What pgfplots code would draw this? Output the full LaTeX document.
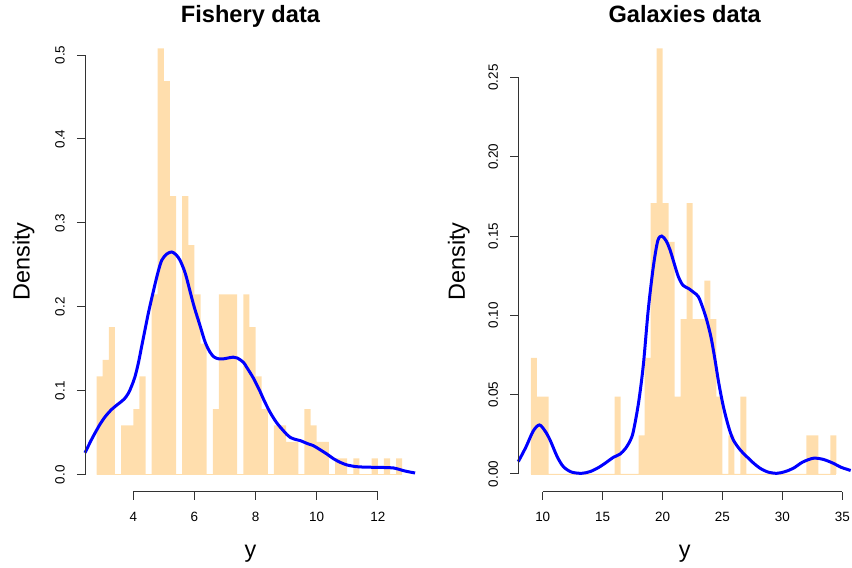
\documentclass[border=0pt]{standalone}
\usepackage{fontspec}
\setmainfont{Liberation Sans}
\usepackage{pgfplots}
\pgfplotsset{compat=1.18}
\definecolor{barc}{HTML}{FFDEAD}
\definecolor{axc}{HTML}{333333}
\pgfplotsset{
  rstyle/.style={
    scale only axis, clip=false,
    axis x line*=bottom, axis y line*=left,
    axis line style={draw=none},
    tick align=outside, major tick length=8bp,
    tick style={axc, line width=0.9bp},
    scaled ticks=false,
    /pgf/number format/assume math mode=true,
    tick label style={font=\fontsize{13.5}{15}\selectfont, text=black},
    yticklabel style={rotate=90, anchor=south, inner ysep=12bp},
    xticklabel style={yshift=-8.6bp},
    xlabel style={font=\fontsize{23.5}{26}\selectfont, at={(axis description cs:0.5,-0.142)}, anchor=base},
    title style={font=\fontsize{23.7}{26}\selectfont\bfseries, at={(axis description cs:0.5,1)}, anchor=base, yshift=2.6bp},
  }
}
\begin{document}
\begin{tikzpicture}
\path[use as bounding box] (0bp,0bp) rectangle (852bp,-568bp);
\begin{axis}[rstyle,
  at={(85bp,-491.7bp)}, anchor=south west,
  width=331bp, height=460.2bp,
  xmin=2.42, xmax=13.25, ymin=-0.0203, ymax=0.528,
  xtick={4,6,8,10,12},
  ytick={0,0.1,0.2,0.3,0.4,0.5},
  yticklabels={0.0,0.1,0.2,0.3,0.4,0.5},
  title={Fishery data}, xlabel={y}, ylabel={Density},
  ylabel style={font=\fontsize{23.5}{26}\selectfont, at={(axis description cs:-0.1675,0.5)}, rotate=0, anchor=base},
]
\addplot[ybar interval, fill=barc, draw=none] coordinates {
(2.8,0.1172) (3.0,0.1367) (3.2,0.1758) (3.4,0) (3.6,0.0586) (3.8,0.0586)
(4.0,0.0781) (4.2,0.1172) (4.4,0) (4.6,0.2148) (4.8,0.5078) (5.0,0.4688)
(5.2,0.3320) (5.4,0) (5.6,0.3320) (5.8,0.2734) (6.0,0.2148) (6.2,0.15625)
(6.4,0) (6.6,0.0781) (6.8,0.2148) (7.0,0.2148) (7.2,0.2148) (7.4,0)
(7.6,0.2148) (7.8,0.1758) (8.0,0.1172) (8.2,0.0781) (8.4,0) (8.6,0.0586)
(8.8,0.0586) (9.0,0.0391) (9.2,0.0391) (9.4,0) (9.6,0.0781) (9.8,0.0586)
(10.0,0.0391) (10.2,0.0391) (10.4,0) (10.6,0.0195) (10.8,0.0195) (11.0,0)
(11.2,0.0195) (11.4,0) (11.6,0) (11.8,0.0195) (12.0,0) (12.2,0.0195)
(12.4,0) (12.6,0.0195) (12.8,0)
};
\addplot[barc, line width=0.8bp] coordinates {(2.8,0) (12.8,0)};
\addplot[blue, line width=3bp, smooth] coordinates {
(2.42,0.026) (2.65,0.043) (2.91,0.060) (3.1,0.070) (3.3,0.078) (3.5,0.084)
(3.7,0.090) (3.84,0.097) (3.95,0.106) (4.05,0.116) (4.16,0.132)
(4.27,0.152) (4.38,0.172) (4.49,0.192) (4.65,0.2175) (4.80,0.240) (4.93,0.2554)
(5.1,0.263) (5.26,0.2653) (5.4,0.262) (5.53,0.2554) (5.7,0.240) (5.86,0.218)
(6.0,0.199) (6.18,0.178) (6.35,0.158) (6.51,0.146) (6.65,0.140) (6.8,0.138)
(6.95,0.138) (7.1,0.139) (7.27,0.140) (7.4,0.139) (7.6,0.134) (7.71,0.128)
(7.93,0.115) (8.15,0.099) (8.26,0.090) (8.45,0.076) (8.65,0.064) (8.8,0.057)
(9.02,0.048) (9.13,0.0445) (9.3,0.042) (9.46,0.0406) (9.7,0.037) (9.89,0.0346)
(10.1,0.030) (10.33,0.0247) (10.55,0.019) (10.77,0.0147) (11.0,0.0115) (11.31,0.0095)
(11.6,0.009) (11.97,0.0087) (12.25,0.0085) (12.51,0.008) (12.7,0.0063) (12.84,0.0048)
(13.0,0.0035) (13.22,0.002)
};
\draw[axc, line width=0.9bp] (axis cs:4,-0.0203) -- (axis cs:12,-0.0203);
\draw[axc, line width=0.9bp] (axis cs:2.42,0) -- (axis cs:2.42,0.5);
\end{axis}
\begin{axis}[rstyle,
  at={(518.3bp,-491.7bp)}, anchor=south west,
  width=332.7bp, height=460.2bp,
  xmin=7.96, xmax=35.73, ymin=-0.0112, ymax=0.279,
  xtick={10,15,20,25,30,35},
  ytick={0,0.05,0.10,0.15,0.20,0.25},
  yticklabels={0.00,0.05,0.10,0.15,0.20,0.25},
  title={Galaxies data}, xlabel={y}, ylabel={Density},
  ylabel style={font=\fontsize{23.5}{26}\selectfont, at={(axis description cs:-0.1608,0.5)}, rotate=0, anchor=base},
]
\addplot[ybar interval, fill=barc, draw=none] coordinates {
(9.0,0.07317) (9.5,0.04878) (10.0,0.04878) (10.5,0) (11.0,0) (11.5,0) (12.0,0)
(12.5,0) (13.0,0) (13.5,0) (14.0,0) (14.5,0) (15.0,0) (15.5,0) (16.0,0.04878)
(16.5,0) (17.0,0) (17.5,0) (18.0,0.02439) (18.5,0.07317) (19.0,0.17073)
(19.5,0.26829) (20.0,0.17073) (20.5,0.14634) (21.0,0.04878) (21.5,0.09756)
(22.0,0.17073) (22.5,0.09756) (23.0,0.09756) (23.5,0.12195) (24.0,0.09756)
(24.5,0.04878) (25.0,0) (25.5,0.02439) (26.0,0) (26.5,0.04878) (27.0,0)
(27.5,0) (28.0,0) (28.5,0) (29.0,0) (29.5,0) (30.0,0) (30.5,0) (31.0,0)
(31.5,0) (32.0,0.02439) (32.5,0.02439) (33.0,0) (33.5,0) (34.0,0.02439) (34.5,0)
};
\addplot[barc, line width=0.8bp] coordinates {(9.0,0) (34.5,0)};
\addplot[blue, line width=3bp, smooth] coordinates {
(7.96,0.0078) (8.6,0.017) (9.2,0.027) (9.72,0.0309) (10.2,0.027) (10.61,0.0214)
(11.2,0.011) (11.72,0.0046) (12.4,0.0012) (13.25,0.0004) (14.0,0.0016) (14.78,0.0046)
(15.4,0.0078) (15.9,0.0105) (16.45,0.0125) (16.9,0.016) (17.3,0.021) (17.56,0.0267)
(18.0,0.045) (18.4,0.069) (18.8,0.103) (19.23,0.1307) (19.6,0.147) (19.93,0.150)
(20.3,0.147) (20.63,0.1412) (21.0,0.132) (21.32,0.1244) (21.7,0.119) (22.16,0.117)
(22.6,0.1145) (22.99,0.1118) (23.35,0.105) (23.69,0.097) (24.05,0.086) (24.38,0.0719)
(24.7,0.057) (25.08,0.0424) (25.5,0.030) (25.91,0.0214) (26.5,0.015) (27.03,0.0109)
(27.6,0.0068) (28.14,0.0036) (28.8,0.0012) (29.53,0.0004) (30.2,0.0014) (30.92,0.0036)
(31.7,0.0075) (32.59,0.0099) (33.4,0.0092) (34.26,0.0067) (34.9,0.0042) (35.7,0.0022)
};
\draw[axc, line width=0.9bp] (axis cs:10,-0.0112) -- (axis cs:35,-0.0112);
\draw[axc, line width=0.9bp] (axis cs:7.96,0) -- (axis cs:7.96,0.25);
\end{axis}
\end{tikzpicture}
\end{document}
